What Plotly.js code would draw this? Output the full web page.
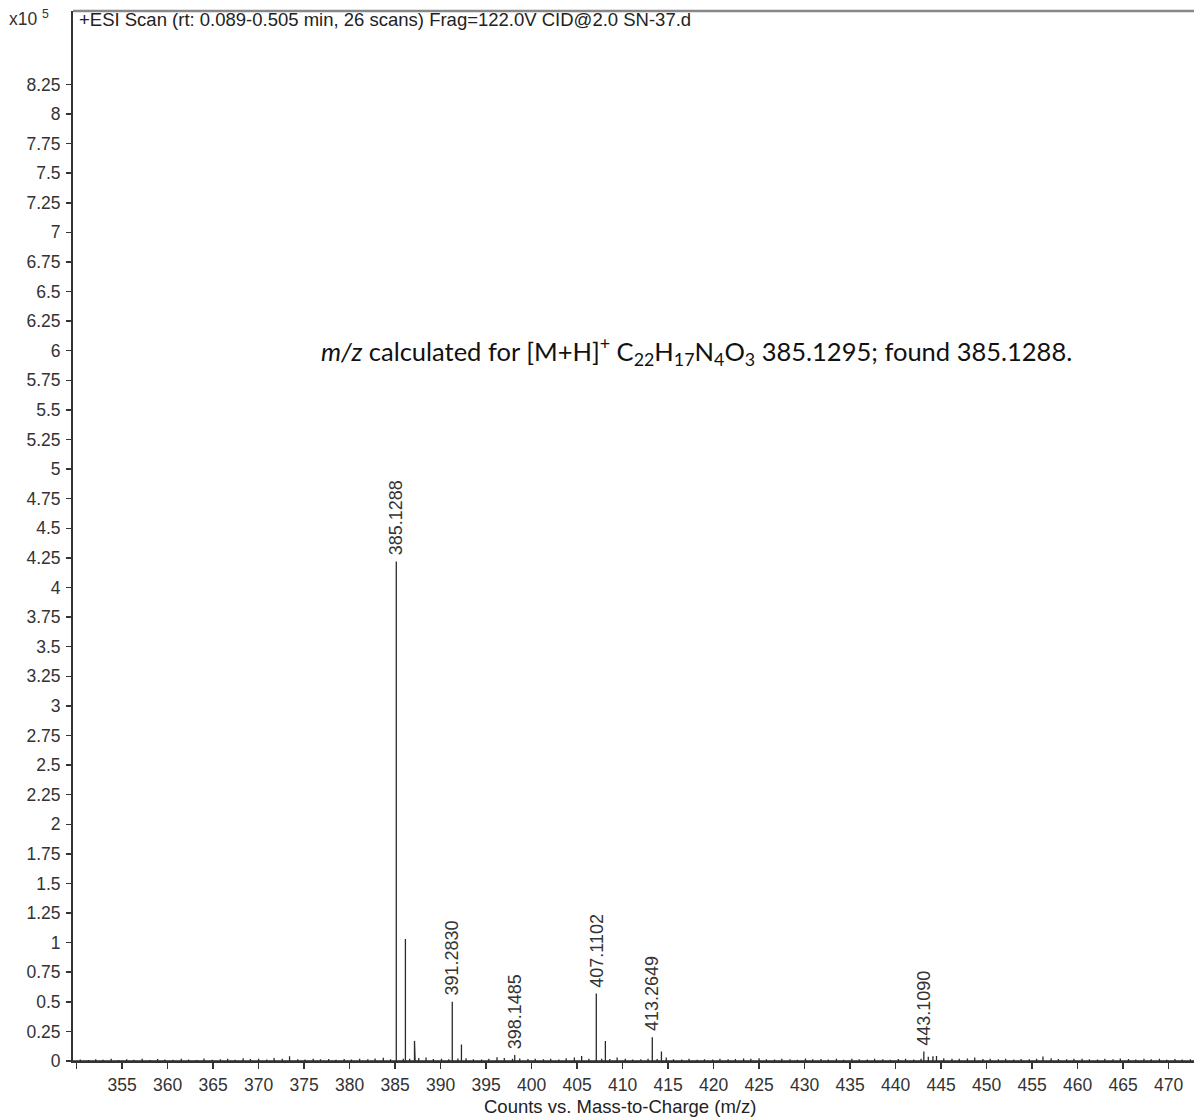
<!DOCTYPE html>
<html>
<head>
<meta charset="utf-8">
<script src="https://cdn.plot.ly/plotly-3.0.1.min.js"></script>
<style>html,body{margin:0;padding:0;background:#fff;}#chart{width:1194px;height:1118px;}</style>
</head>
<body>
<div id="chart"></div>
<script>
// Main peaks (m/z, intensity in units of 1e5 counts)
var peakMz = [385.1288, 386.132, 387.13, 387.20, 391.2830, 392.29, 398.1485, 407.1102, 408.11, 413.2649, 414.27, 443.1090, 444.11];
var peakInt = [4.22, 1.03, 0.17, 0.15, 0.50, 0.14, 0.05, 0.57, 0.17, 0.20, 0.08, 0.08, 0.04];

// Baseline noise sticks
var noiseMz = [350.4, 351.3, 352.1, 352.9, 353.8, 354.6, 355.5, 356.3, 357.2, 358.1, 358.9, 359.7, 360.6, 361.5, 362.3, 363.2, 364.0, 364.9, 365.8, 366.6, 367.4, 368.3, 369.1, 370.0, 370.9, 371.7, 372.6, 373.4, 374.3, 375.1, 376.0, 376.8, 377.7, 378.5, 379.4, 380.2, 381.1, 382.0, 382.8, 383.7, 384.5, 385.9, 386.6, 387.6, 388.4, 389.2, 390.1, 390.9, 391.9, 392.8, 393.6, 394.5, 395.3, 396.2, 397.0, 397.9, 398.7, 399.6, 400.4, 401.3, 402.1, 403.0, 403.8, 404.7, 405.5, 406.3, 407.7, 408.6, 409.4, 410.3, 411.1, 412.0, 412.8, 413.8, 414.8, 415.6, 416.5, 417.3, 418.2, 419.0, 419.9, 420.7, 421.6, 422.4, 423.3, 424.1, 425.0, 425.8, 426.7, 427.5, 428.4, 429.2, 430.1, 430.9, 431.8, 432.6, 433.5, 434.3, 435.2, 436.0, 436.9, 437.7, 438.6, 439.4, 440.3, 441.1, 442.0, 442.8, 443.6, 444.5, 445.3, 446.2, 447.0, 447.9, 448.7, 449.6, 450.4, 451.3, 452.1, 453.0, 453.8, 454.7, 455.5, 456.2, 457.1, 457.9, 458.8, 459.6, 460.5, 461.3, 462.2, 463.0, 463.9, 464.7, 465.6, 466.4, 467.3, 468.1, 469.0, 469.8, 470.7, 471.5, 472.4];
var noiseInt = [0.012, 0.008, 0.015, 0.010, 0.018, 0.009, 0.014, 0.011, 0.020, 0.008, 0.016, 0.012, 0.010, 0.019, 0.013, 0.009, 0.022, 0.011, 0.015, 0.018, 0.010, 0.024, 0.016, 0.020, 0.013, 0.026, 0.018, 0.040, 0.015, 0.012, 0.020, 0.014, 0.017, 0.010, 0.016, 0.012, 0.018, 0.014, 0.022, 0.028, 0.015, 0.020, 0.018, 0.025, 0.030, 0.016, 0.020, 0.014, 0.022, 0.024, 0.015, 0.012, 0.018, 0.032, 0.026, 0.020, 0.022, 0.016, 0.018, 0.014, 0.020, 0.012, 0.024, 0.030, 0.042, 0.018, 0.020, 0.016, 0.030, 0.018, 0.012, 0.015, 0.020, 0.016, 0.030, 0.014, 0.012, 0.018, 0.010, 0.015, 0.012, 0.020, 0.014, 0.016, 0.022, 0.018, 0.024, 0.014, 0.012, 0.018, 0.015, 0.010, 0.022, 0.014, 0.016, 0.012, 0.018, 0.010, 0.020, 0.015, 0.012, 0.018, 0.014, 0.010, 0.016, 0.020, 0.012, 0.018, 0.035, 0.042, 0.024, 0.020, 0.018, 0.022, 0.030, 0.016, 0.020, 0.014, 0.018, 0.012, 0.016, 0.014, 0.020, 0.038, 0.024, 0.016, 0.014, 0.018, 0.020, 0.015, 0.012, 0.018, 0.014, 0.022, 0.016, 0.012, 0.020, 0.014, 0.018, 0.010, 0.016, 0.012, 0.014];

// Labelled peaks
var labelMz = [385.1288, 391.2830, 398.1485, 407.1102, 413.2649, 443.1090];
var labelInt = [4.22, 0.50, 0.05, 0.57, 0.20, 0.08];
var labelText = ["385.1288", "391.2830", "398.1485", "407.1102", "413.2649", "443.1090"];

// Axis ticks
var xTickVals = [350, 355, 360, 365, 370, 375, 380, 385, 390, 395, 400, 405, 410, 415, 420, 425, 430, 435, 440, 445, 450, 455, 460, 465, 470];
var xTickText = ["", "355", "360", "365", "370", "375", "380", "385", "390", "395", "400", "405", "410", "415", "420", "425", "430", "435", "440", "445", "450", "455", "460", "465", "470"];
var yTickVals = [0, 0.25, 0.5, 0.75, 1, 1.25, 1.5, 1.75, 2, 2.25, 2.5, 2.75, 3, 3.25, 3.5, 3.75, 4, 4.25, 4.5, 4.75, 5, 5.25, 5.5, 5.75, 6, 6.25, 6.5, 6.75, 7, 7.25, 7.5, 7.75, 8, 8.25];
var yTickText = ["0", "0.25", "0.5", "0.75", "1", "1.25", "1.5", "1.75", "2", "2.25", "2.5", "2.75", "3", "3.25", "3.5", "3.75", "4", "4.25", "4.5", "4.75", "5", "5.25", "5.5", "5.75", "6", "6.25", "6.5", "6.75", "7", "7.25", "7.5", "7.75", "8", "8.25"];

// Build stick spectrum
var sticks = [];
for (var i = 0; i < peakMz.length; i++) sticks.push([peakMz[i], peakInt[i]]);
for (var j = 0; j < noiseMz.length; j++) sticks.push([noiseMz[j], noiseInt[j]]);
sticks.sort(function(a, b){ return a[0] - b[0]; });
var sx = [349.6], sy = [0];
sticks.forEach(function(s){ sx.push(s[0], s[0], s[0]); sy.push(0, s[1], 0); });
sx.push(472.8); sy.push(0);

var font = "'Liberation Sans', Arial, sans-serif";

var annotations = labelMz.map(function(m, k){
  return {x: m, y: labelInt[k], xref: 'x', yref: 'y', text: labelText[k], textangle: -90,
    showarrow: false, xanchor: 'center', yanchor: 'bottom', yshift: 4,
    font: {family: font, size: 18, color: '#333'}};
});
annotations.push({xref: 'paper', yref: 'paper', x: 0.004, y: 1, yshift: -8, xanchor: 'left', yanchor: 'middle',
  text: '+ESI Scan (rt: 0.089-0.505 min, 26 scans) Frag=122.0V CID@2.0 SN-37.d', showarrow: false,
  font: {family: font, size: 18.5, color: '#222'}});
annotations.push({xref: 'paper', yref: 'paper', x: -0.02, y: 1, yshift: 6, xanchor: 'right', yanchor: 'top',
  text: 'x10 <sup>5</sup>', showarrow: false, font: {family: font, size: 17.5, color: '#333'}});
annotations.push({xref: 'x', yref: 'y', x: 418.1, y: 6.0, xanchor: 'center', yanchor: 'middle',
  text: '<i>m/z</i> calculated for [M+H]<sup>+</sup> C<sub>22</sub>H<sub>17</sub>N<sub>4</sub>O<sub>3</sub> 385.1295; found 385.1288.',
  showarrow: false, font: {family: 'Lato, sans-serif', size: 25.5, color: '#111'}});
annotations.push({xref: 'paper', yref: 'paper', x: 0.488, y: 0, yshift: -33, xanchor: 'center', yanchor: 'top',
  text: 'Counts vs. Mass-to-Charge (m/z)', showarrow: false, font: {family: font, size: 18.5, color: '#222'}});

var trace = {x: sx, y: sy, type: 'scatter', mode: 'lines', line: {color: '#2a2a2a', width: 1.3}, hoverinfo: 'skip'};

var layout = {
  width: 1194, height: 1118,
  margin: {l: 73, r: 0, t: 11, b: 57},
  paper_bgcolor: '#fff', plot_bgcolor: '#fff',
  showlegend: false,
  xaxis: {range: [349.6, 472.8], tickmode: 'array', tickvals: xTickVals, ticktext: xTickText,
    ticks: 'outside', ticklen: 6, tickwidth: 1.5, tickcolor: '#333',
    showline: true, linecolor: '#333', linewidth: 2, showgrid: false, zeroline: false,
    tickfont: {family: font, size: 17.5, color: '#333'}, ticklabelstandoff: 1},
  yaxis: {range: [0, 8.87], tickmode: 'array', tickvals: yTickVals, ticktext: yTickText,
    ticks: 'outside', ticklen: 5, tickwidth: 1.5, tickcolor: '#333',
    showline: true, linecolor: '#333', linewidth: 2, showgrid: false, zeroline: false,
    tickfont: {family: font, size: 17.5, color: '#333'}, ticklabelstandoff: 2},
  shapes: [{type: 'line', xref: 'paper', yref: 'paper', x0: 0, x1: 1, y0: 1, y1: 1,
    line: {color: '#888', width: 2.5}}],
  annotations: annotations
};

Plotly.newPlot('chart', [trace], layout, {displayModeBar: false, staticPlot: true});
</script>
</body>
</html>
